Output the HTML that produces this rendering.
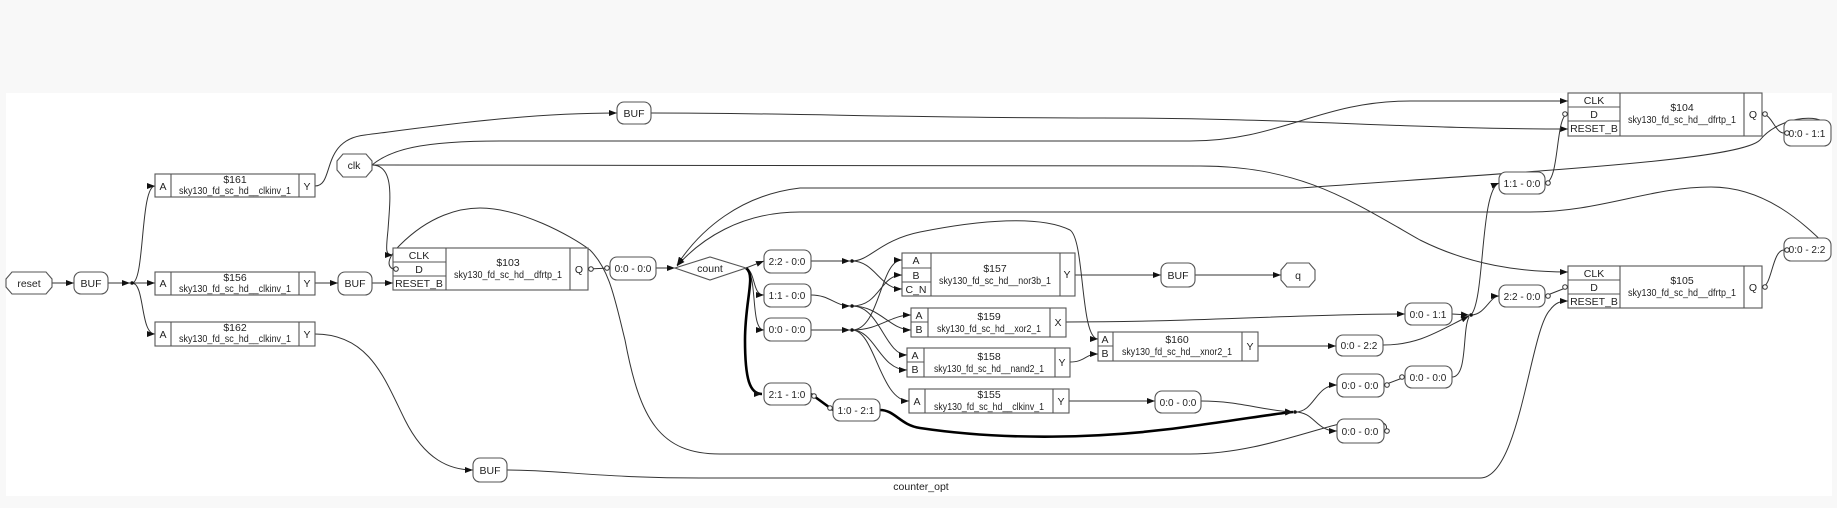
<!DOCTYPE html>
<html><head><meta charset="utf-8"><style>
html,body{margin:0;padding:0;background:#f8f8f8;}
svg{display:block;}
text{font-family:"Liberation Sans","DejaVu Sans",sans-serif;font-size:10.5px;fill:#222;}
.n text{font-size:10px;}
.b{fill:#fff;stroke:#555;stroke-width:1.1;}
.l{fill:none;stroke:#555;stroke-width:1.1;}
.w{fill:none;stroke:#333;stroke-width:1;}
.t{fill:none;stroke:#000;stroke-width:2.6;}
.c{fill:#fff;stroke:#333;stroke-width:1;}
</style></head><body>
<svg width="1837" height="508" viewBox="0 0 1837 508" xmlns="http://www.w3.org/2000/svg">
<defs><marker id="a" markerWidth="8" markerHeight="6" refX="8" refY="3" orient="auto" markerUnits="userSpaceOnUse"><path d="M0,0L8,3L0,6z" fill="#111"/></marker></defs>
<rect x="6" y="93" width="1826" height="403" fill="#fff"/>

<g class="w">
<path d="M52,283L74,283" marker-end="url(#a)"/>
<path d="M108,283L130,283" marker-end="url(#a)"/>
<path d="M132,283L155,283" marker-end="url(#a)"/>
<path d="M132,283C145,283 140,186 155,186" marker-end="url(#a)"/>
<path d="M132,283C145,283 140,334 155,334" marker-end="url(#a)"/>
<path d="M315,186C335,186 320,140 365,135C420,128 520,113 617,113" marker-end="url(#a)"/>
<path d="M651,113C800,113 900,118 1100,118C1300,118 1400,129 1568,129" marker-end="url(#a)"/>
<path d="M315,283L338,283" marker-end="url(#a)"/>
<path d="M372,283L393,283" marker-end="url(#a)"/>
<path d="M315,334C370,334 385,380 405,420C425,460 450,470 473,470" marker-end="url(#a)"/>
<path d="M507,470C560,470 600,478 700,478L1480,478C1520,478 1530,330 1550,310C1555,303 1560,301 1568,301" marker-end="url(#a)"/>
<path d="M372,165C395,165 390,200 388,230C386,250 385,255 393,255" marker-end="url(#a)"/>
<path d="M372,165C390,150 420,141 500,141L1190,141C1280,141 1320,101 1410,101L1568,101" marker-end="url(#a)"/>
<path d="M372,165L1200,166C1300,166 1350,200 1420,240C1470,265 1520,272 1568,272" marker-end="url(#a)"/>
<path d="M588,269L610,268"/>
<path d="M656,268L675,268" marker-end="url(#a)"/>
<path d="M1831,250C1810,230 1770,187 1711,187C1650,187 1600,212 1530,212L800,212C740,212 700,240 677,266" marker-end="url(#a)"/>
<path d="M1831,133C1830,110 1780,115 1760,140C1740,160 1550,170 1300,188L800,188C740,195 700,230 677,265" marker-end="url(#a)"/>
<path d="M1762,114C1772,114 1775,133 1784,133"/>
<path d="M1762,287C1772,287 1772,250 1784,250"/>
<path d="M1545,183C1560,183 1555,114 1568,114"/>
<path d="M1452,314L1469,315" marker-end="url(#a)"/>
<path d="M1383,345C1420,345 1440,330 1469,316" marker-end="url(#a)"/>
<path d="M1452,377C1468,377 1462,330 1469,317"/>
<path d="M1471,315C1485,300 1480,190 1499,183" marker-end="url(#a)"/>
<path d="M1471,315C1485,315 1490,296 1499,296" marker-end="url(#a)"/>
<path d="M1545,296L1568,287"/>
<path d="M746,268L764,261" marker-end="url(#a)"/>
<path d="M746,268C756,272 752,295 764,295" marker-end="url(#a)"/>
<path d="M746,268C758,275 750,330 764,330" marker-end="url(#a)"/>
<path d="M811,261L850,261" marker-end="url(#a)"/>
<path d="M811,295C830,295 835,306 850,306" marker-end="url(#a)"/>
<path d="M811,330L850,330" marker-end="url(#a)"/>
<path d="M852,261C875,261 880,289 902,289" marker-end="url(#a)"/>
<path d="M852,261C870,261 880,240 920,232C980,220 1040,215 1070,230C1085,240 1080,339 1098,339" marker-end="url(#a)"/>
<path d="M852,330C880,330 880,260 902,260" marker-end="url(#a)"/>
<path d="M852,306C880,306 880,275 902,275" marker-end="url(#a)"/>
<path d="M852,306C880,306 890,330 911,330" marker-end="url(#a)"/>
<path d="M852,330C880,330 890,315 911,315" marker-end="url(#a)"/>
<path d="M852,306C880,306 885,355 907,355" marker-end="url(#a)"/>
<path d="M852,330C875,330 880,370 907,370" marker-end="url(#a)"/>
<path d="M852,330C875,330 880,401 909,401" marker-end="url(#a)"/>
<path d="M1070,362C1085,362 1085,354 1098,354" marker-end="url(#a)"/>
<path d="M1075,275L1161,275" marker-end="url(#a)"/>
<path d="M1195,275L1281,275" marker-end="url(#a)"/>
<path d="M1066,322C1200,322 1300,314 1405,314" marker-end="url(#a)"/>
<path d="M1258,346L1336,346" marker-end="url(#a)"/>
<path d="M1069,401L1155,401" marker-end="url(#a)"/>
<path d="M1201,401C1240,401 1260,410 1293,412" marker-end="url(#a)"/>
<path d="M1295,412C1315,412 1315,385 1337,385" marker-end="url(#a)"/>
<path d="M1295,412C1315,412 1315,431 1337,431" marker-end="url(#a)"/>
<path d="M1384,385L1405,377"/>
<path d="M393,269C385,265 390,255 400,245C430,215 460,208 480,208C520,208 570,235 590,250C610,270 615,300 625,340C640,420 660,454 720,454L1190,454C1260,454 1320,425 1360,420C1380,418 1392,425 1384,431"/>
</g>
<path class="t" d="M746,268C756,275 745,300 745,340C745,380 750,394 762,394" marker-end="url(#a)"/>
<path class="t" d="M811,394L833,410"/>
<path class="t" d="M880,410C895,410 900,425 920,428C1000,440 1100,440 1200,425C1250,418 1280,413 1293,412" marker-end="url(#a)"/>
<g fill="#111"><circle cx="132" cy="283" r="1.8"/><circle cx="852" cy="261" r="1.8"/><circle cx="852" cy="306" r="1.8"/><circle cx="852" cy="330" r="1.8"/><circle cx="1471" cy="315" r="1.8"/><circle cx="1295" cy="412" r="1.8"/></g>

<g class="b">
<polygon points="12,272 46,272 52,279 52,287 46,294 12,294 6,287 6,279"/>
<polygon points="343,154 366,154 372,161 372,170 366,177 343,177 337,170 337,161"/>
<polygon points="1287,263 1309,263 1315,270 1315,280 1309,287 1287,287 1281,280 1281,270"/>
<polygon points="675,268 710,257 746,268 710,280"/>
</g>
<text x="29" y="287" text-anchor="middle">reset</text>
<text x="354" y="169" text-anchor="middle">clk</text>
<text x="1298" y="279" text-anchor="middle">q</text>
<text x="710" y="272" text-anchor="middle">count</text>

<g class="b">
<rect x="74" y="272" width="34" height="22" rx="7"/>
<rect x="338" y="272" width="34" height="23" rx="7"/>
<rect x="617" y="102" width="34" height="22" rx="7"/>
<rect x="473" y="458" width="34" height="24" rx="7"/>
<rect x="1161" y="263" width="34" height="24" rx="7"/>
<rect x="610" y="257" width="46" height="23" rx="7"/>
<rect x="764" y="250" width="47" height="23" rx="7"/>
<rect x="764" y="284" width="47" height="23" rx="7"/>
<rect x="764" y="318" width="47" height="23" rx="7"/>
<rect x="764" y="383" width="47" height="22" rx="7"/>
<rect x="833" y="399" width="47" height="22" rx="7"/>
<rect x="1155" y="391" width="46" height="22" rx="7"/>
<rect x="1336" y="335" width="47" height="21" rx="7"/>
<rect x="1337" y="374" width="47" height="23" rx="7"/>
<rect x="1337" y="419" width="47" height="24" rx="7"/>
<rect x="1405" y="303" width="47" height="22" rx="7"/>
<rect x="1405" y="366" width="47" height="22" rx="7"/>
<rect x="1499" y="172" width="46" height="22" rx="7"/>
<rect x="1499" y="285" width="46" height="22" rx="7"/>
<rect x="1784" y="120" width="47" height="26" rx="7"/>
<rect x="1784" y="238" width="47" height="23" rx="7"/>
</g>
<g text-anchor="middle">
<text x="91" y="287">BUF</text><text x="355" y="287">BUF</text><text x="634" y="117">BUF</text><text x="490" y="474">BUF</text><text x="1178" y="279">BUF</text>
</g>
<g class="n" text-anchor="middle">
<text x="633" y="272">0:0 - 0:0</text><text x="787" y="265">2:2 - 0:0</text><text x="787" y="299">1:1 - 0:0</text><text x="787" y="333">0:0 - 0:0</text>
<text x="787" y="398">2:1 - 1:0</text><text x="856" y="414">1:0 - 2:1</text><text x="1178" y="406">0:0 - 0:0</text>
<text x="1359" y="349">0:0 - 2:2</text><text x="1360" y="389">0:0 - 0:0</text><text x="1360" y="435">0:0 - 0:0</text>
<text x="1428" y="318">0:0 - 1:1</text><text x="1428" y="381">0:0 - 0:0</text><text x="1522" y="187">1:1 - 0:0</text><text x="1522" y="300">2:2 - 0:0</text>
<text x="1807" y="137">0:0 - 1:1</text><text x="1807" y="253">0:0 - 2:2</text>
</g>

<g class="b">
<rect x="155" y="174" width="160" height="23"/><rect x="155" y="272" width="160" height="23"/><rect x="155" y="322" width="160" height="24"/>
<rect x="393" y="248" width="195" height="42"/><rect x="1568" y="93" width="194" height="43"/><rect x="1568" y="266" width="194" height="42"/>
<rect x="902" y="253" width="173" height="43"/><rect x="911" y="308" width="155" height="29"/><rect x="907" y="348" width="163" height="29"/>
<rect x="1098" y="332" width="160" height="29"/><rect x="909" y="389" width="160" height="24"/>
</g>
<g class="l">
<path d="M171,174V197M299,174V197M171,272V295M299,272V295M171,322V346M299,322V346"/>
<path d="M446,248V290M570,248V290M393,262H446M393,276H446"/>
<path d="M1620,93V136M1744,93V136M1568,107H1620M1568,121H1620"/>
<path d="M1620,266V308M1744,266V308M1568,280H1620M1568,294H1620"/>
<path d="M931,253V296M1060,253V296M902,268H931M902,282H931"/>
<path d="M928,308V337M1050,308V337M911,322H928"/>
<path d="M924,348V377M1055,348V377M907,362H924"/>
<path d="M1113,332V361M1242,332V361M1098,346H1113"/>
<path d="M925,389V413M1053,389V413"/>
</g>
<g text-anchor="middle">
<text x="163" y="190">A</text><text x="235" y="183">$161</text><text x="235" y="194" textLength="112" lengthAdjust="spacingAndGlyphs">sky130_fd_sc_hd__clkinv_1</text><text x="307" y="190">Y</text>
<text x="163" y="287">A</text><text x="235" y="281">$156</text><text x="235" y="292" textLength="112" lengthAdjust="spacingAndGlyphs">sky130_fd_sc_hd__clkinv_1</text><text x="307" y="287">Y</text>
<text x="163" y="338">A</text><text x="235" y="331">$162</text><text x="235" y="342" textLength="112" lengthAdjust="spacingAndGlyphs">sky130_fd_sc_hd__clkinv_1</text><text x="307" y="338">Y</text>
<text x="419" y="259">CLK</text><text x="419" y="273">D</text><text x="419" y="287">RESET_B</text><text x="508" y="266">$103</text><text x="508" y="278" textLength="108" lengthAdjust="spacingAndGlyphs">sky130_fd_sc_hd__dfrtp_1</text><text x="579" y="273">Q</text>
<text x="1594" y="104">CLK</text><text x="1594" y="118">D</text><text x="1594" y="132">RESET_B</text><text x="1682" y="111">$104</text><text x="1682" y="123" textLength="108" lengthAdjust="spacingAndGlyphs">sky130_fd_sc_hd__dfrtp_1</text><text x="1753" y="118">Q</text>
<text x="1594" y="277">CLK</text><text x="1594" y="291">D</text><text x="1594" y="305">RESET_B</text><text x="1682" y="284">$105</text><text x="1682" y="296" textLength="108" lengthAdjust="spacingAndGlyphs">sky130_fd_sc_hd__dfrtp_1</text><text x="1753" y="291">Q</text>
<text x="916" y="264">A</text><text x="916" y="279">B</text><text x="916" y="293">C_N</text><text x="995" y="272">$157</text><text x="995" y="284" textLength="112" lengthAdjust="spacingAndGlyphs">sky130_fd_sc_hd__nor3b_1</text><text x="1067" y="278">Y</text>
<text x="919" y="319">A</text><text x="919" y="333">B</text><text x="989" y="320">$159</text><text x="989" y="332" textLength="104" lengthAdjust="spacingAndGlyphs">sky130_fd_sc_hd__xor2_1</text><text x="1058" y="326">X</text>
<text x="915" y="359">A</text><text x="915" y="373">B</text><text x="989" y="360">$158</text><text x="989" y="372" textLength="110" lengthAdjust="spacingAndGlyphs">sky130_fd_sc_hd__nand2_1</text><text x="1062" y="366">Y</text>
<text x="1105" y="343">A</text><text x="1105" y="357">B</text><text x="1177" y="343">$160</text><text x="1177" y="355" textLength="110" lengthAdjust="spacingAndGlyphs">sky130_fd_sc_hd__xnor2_1</text><text x="1250" y="350">Y</text>
<text x="917" y="405">A</text><text x="989" y="398">$155</text><text x="989" y="410" textLength="110" lengthAdjust="spacingAndGlyphs">sky130_fd_sc_hd__clkinv_1</text><text x="1061" y="405">Y</text>
<text x="921" y="490">counter_opt</text>
</g>

<g class="c">
<circle cx="591" cy="269" r="2.3"/><circle cx="607" cy="268" r="2.3"/><circle cx="396" cy="269" r="2.3"/>
<circle cx="1765" cy="114" r="2.3"/><circle cx="1787" cy="133" r="2.3"/><circle cx="1765" cy="287" r="2.3"/><circle cx="1787" cy="250" r="2.3"/>
<circle cx="1548" cy="183" r="2.3"/><circle cx="1565" cy="114" r="2.3"/><circle cx="1548" cy="296" r="2.3"/><circle cx="1565" cy="287" r="2.3"/>
<circle cx="1387" cy="385" r="2.3"/><circle cx="1402" cy="377" r="2.3"/><circle cx="1387" cy="431" r="2.3"/>
<circle cx="814" cy="396" r="2.3"/><circle cx="830" cy="408" r="2.3"/>
</g>
</svg>
</body></html>
